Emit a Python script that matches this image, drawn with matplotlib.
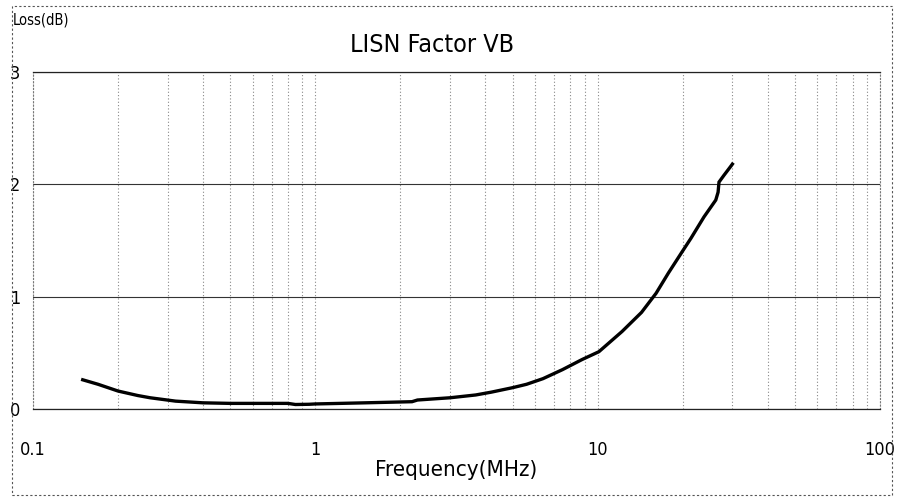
import matplotlib
matplotlib.use("Agg")
import matplotlib.pyplot as plt
from matplotlib.patches import Rectangle
from matplotlib.ticker import FixedLocator, NullFormatter

plt.rcParams['font.family'] = ['DejaVu Sans']
plt.rcParams['font.stretch'] = 'condensed'

# Data
freq_mhz = [0.15, 0.17, 0.2, 0.235, 0.26, 0.32, 0.4, 0.5, 0.8, 0.85, 0.95, 1.0, 1.5,
            2.2, 2.3, 3.0, 3.7, 4.2, 5.0, 5.6, 6.4, 7.5, 8.8, 10.1, 12.2, 14.3,
            16.1, 17.8, 19.8, 21.4, 23.8, 26.2, 26.7, 26.9, 28.0, 29.6, 30.0]
loss_db = [0.26, 0.22, 0.16, 0.12, 0.10, 0.07, 0.055, 0.05, 0.05, 0.04, 0.042, 0.045, 0.055,
           0.065, 0.08, 0.10, 0.125, 0.15, 0.19, 0.22, 0.27, 0.35, 0.44, 0.51, 0.69, 0.86,
           1.03, 1.21, 1.39, 1.52, 1.71, 1.86, 1.93, 2.02, 2.08, 2.16, 2.18]

x_ticks = [0.1, 1, 10, 100]
x_tick_labels = ["0.1", "1", "10", "100"]
y_ticks = [0, 1, 2, 3]
y_tick_labels = ["0", "1", "2", "3"]
x_minor = [m * d for d in (0.1, 1, 10) for m in range(2, 10)]

W, H = 901, 497
fig = plt.figure(figsize=(W / 100, H / 100), dpi=100)
ax = fig.add_axes([33 / W, 1 - 409 / H, (880 - 33) / W, (409 - 72) / H])

ax.plot(freq_mhz, loss_db, color="black", lw=2.4, solid_joinstyle="miter")

ax.set_xscale("log")
ax.set_xlim(0.1, 100)
ax.set_ylim(0, 3)
ax.xaxis.set_major_locator(FixedLocator(x_ticks))
ax.xaxis.set_minor_locator(FixedLocator(x_minor))
ax.xaxis.set_minor_formatter(NullFormatter())
ax.set_xticks(x_ticks)
ax.set_xticklabels(x_tick_labels)
ax.set_yticks(y_ticks)
ax.set_yticklabels(y_tick_labels)
ax.tick_params(axis="both", which="both", length=0)
ax.tick_params(axis="x", pad=23, labelsize=13)
ax.tick_params(axis="y", pad=9, labelsize=13)

ax.grid(True, axis="x", which="both", color="#888888", ls=(0, (1, 2)), lw=0.8)
ax.grid(True, axis="y", which="major", color="#333333", ls="-", lw=0.8)

for s in ("top", "bottom"):
    ax.spines[s].set_color("#222222")
    ax.spines[s].set_linewidth(0.9)
for s in ("left", "right"):
    ax.spines[s].set_color("#777777")
    ax.spines[s].set_linestyle((0, (1, 2)))
    ax.spines[s].set_linewidth(0.8)

fig.text(432 / W, 1 - 45 / H, "LISN Factor VB", ha="center", va="center", fontsize=18)
fig.text(13 / W, 1 - 20 / H, "Loss(dB)", ha="left", va="center", fontsize=10.5)
fig.text(456 / W, 1 - 470 / H, "Frequency(MHz)", ha="center", va="center", fontsize=16)

fig.patches.append(Rectangle((12 / W, 1 - 495 / H), (892 - 12) / W, (495 - 6) / H,
                             transform=fig.transFigure, fill=False,
                             edgecolor="#555555", lw=0.8, ls=(0, (2, 2))))

fig.savefig("out.png", dpi=100)
